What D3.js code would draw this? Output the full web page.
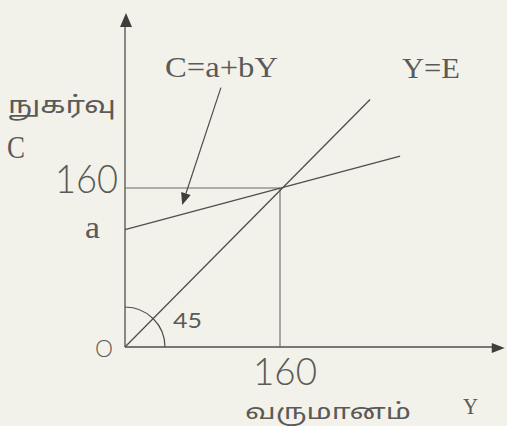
<!DOCTYPE html>
<html>
<head>
<meta charset="utf-8">
<script src="https://cdn.jsdelivr.net/npm/d3@7"></script>
<style>
  html,body{margin:0;padding:0;background:#f3f2ea;}
  svg{display:block;}
</style>
</head>
<body>
<svg id="chart" width="507" height="426"></svg>
<script>
// ---- data ----
const axisTickValues = [160];
const axisTickLabels = ["160"];
const consumptionLine = [[0, 118], [284, 192]];   // C = a + bY
const equalityLine = [[0, 0], [253, 249]];        // Y = E (45°)
const equilibrium = [160, 160];
const interceptLabel = "a";
const consumptionLabel = "C=a+bY";
const equalityLabel = "Y=E";
const yAxisTitle = ["நுகர்வு", "C"];
const xAxisTitle = ["வருமானம்", "Y"];
const angleLabel = "45";
const originLabel = "O";
const annotationArrow = [[99, 261], [59, 143]];
const axisExtent = {x: 392, y: 336};

// ---- scales ----
const x = d3.scaleLinear().domain([0, 160]).range([125, 280]);
const y = d3.scaleLinear().domain([0, 160]).range([347, 188]);

const svg = d3.select("#chart");
const ink = "#4e4e4c";
const textInk = "#5a5a58";

// axes
const ax = svg.append("g");
ax.append("line").attr("x1", x(0)).attr("y1", y(0)).attr("x2", x(axisExtent.x) - 10).attr("y2", y(0))
  .attr("stroke", ink).attr("stroke-width", 1.3);
ax.append("line").attr("x1", x(0)).attr("y1", y(0)).attr("x2", x(0)).attr("y2", y(axisExtent.y) + 12)
  .attr("stroke", ink).attr("stroke-width", 1.3);
// arrow heads
const xt = x(axisExtent.x), yt = y(0);
ax.append("path").attr("d", `M${xt},${yt + 1} L${xt - 13},${yt - 4} L${xt - 13},${yt + 6} Z`).attr("fill", "#3e3e3c");
const ytop = y(axisExtent.y), xl = x(0);
ax.append("path").attr("d", `M${xl + 1},${ytop} L${xl - 5},${ytop + 14} L${xl + 7},${ytop + 14} Z`).attr("fill", "#3e3e3c");

// guide lines at 160
svg.append("line").attr("x1", x(0)).attr("x2", x(equilibrium[0])).attr("y1", y(equilibrium[1])).attr("y2", y(equilibrium[1]))
  .attr("stroke", "#6a6a68").attr("stroke-width", 1.1);
svg.append("line").attr("x1", x(equilibrium[0])).attr("x2", x(equilibrium[0])).attr("y1", y(equilibrium[1])).attr("y2", y(0))
  .attr("stroke", "#6a6a68").attr("stroke-width", 1.1);

// lines
const lineGen = d3.line().x(d => x(d[0])).y(d => y(d[1]));
svg.append("path").attr("d", lineGen(consumptionLine)).attr("fill", "none").attr("stroke", ink).attr("stroke-width", 1.3);
svg.append("path").attr("d", lineGen(equalityLine)).attr("fill", "none").attr("stroke", ink).attr("stroke-width", 1.3);

// 45 degree arc
const arc = d3.arc().innerRadius(40).outerRadius(40).startAngle(0).endAngle(Math.PI / 2);
svg.append("path").attr("d", arc()).attr("transform", `translate(${x(0)},${y(0)})`)
  .attr("fill", "none").attr("stroke", ink).attr("stroke-width", 1.2);

// annotation arrow
const [a0, a1] = annotationArrow;
const sx = x(a0[0]), sy = y(a0[1]), ex = x(a1[0]), ey = y(a1[1]);
const ang = Math.atan2(ey - sy, ex - sx);
const hl = 12, hw = 5;
const bx = ex - hl * Math.cos(ang), by = ey - hl * Math.sin(ang);
svg.append("line").attr("x1", sx).attr("y1", sy).attr("x2", bx).attr("y2", by).attr("stroke", ink).attr("stroke-width", 1.2);
svg.append("path").attr("d",
  `M${ex},${ey} L${bx + hw * Math.sin(ang)},${by - hw * Math.cos(ang)} L${bx - hw * Math.sin(ang)},${by + hw * Math.cos(ang)} Z`)
  .attr("fill", "#3e3e3c");

// text helpers
const serif = "'Liberation Serif', 'DejaVu Serif', serif";
const sans = "'Lato', 'Open Sans', 'DejaVu Sans', sans-serif";
const tamil = "'Noto Sans Tamil', 'Noto Serif Tamil', 'Lohit Tamil', 'Latha', 'Noto Sans', sans-serif";
function txt(s, px, py, size, fam, opts = {}) {
  const t = svg.append("text").attr("x", px).attr("y", py).text(s)
    .attr("font-size", size).attr("font-family", fam).attr("fill", opts.fill || textInk)
    .attr("font-weight", opts.weight || "normal");
  if (opts.anchor) t.attr("text-anchor", opts.anchor);
  if (opts.len) t.attr("textLength", opts.len).attr("lengthAdjust", "spacingAndGlyphs");
  return t;
}

// tick labels
axisTickValues.forEach((v, i) => {
  txt(axisTickLabels[i], x(0) - 7, y(v) + 5, 40, sans, {anchor: "end", len: 63, weight: 300});
  txt(axisTickLabels[i], x(v) - 27, y(0) + 38, 38, sans, {len: 64, weight: 300});
});

txt(interceptLabel, 85, 238, 32, serif, {len: 15});
txt(originLabel, 95, 357, 23, sans, {len: 18, weight: 300});
txt(angleLabel, 173, 328, 21, sans, {len: 29});

txt(consumptionLabel, 165, 77, 30, serif, {len: 113});
txt(equalityLabel, 402, 78, 30, serif, {len: 58});

// axis titles
txt(yAxisTitle[0], 8, 113, 24, tamil, {len: 108});
txt(yAxisTitle[1], 7, 158, 32, serif, {len: 18});
txt(xAxisTitle[0], 245, 419, 22, tamil, {len: 166});
txt(xAxisTitle[1], 463, 414, 24, serif, {len: 15});
</script>
</body>
</html>
